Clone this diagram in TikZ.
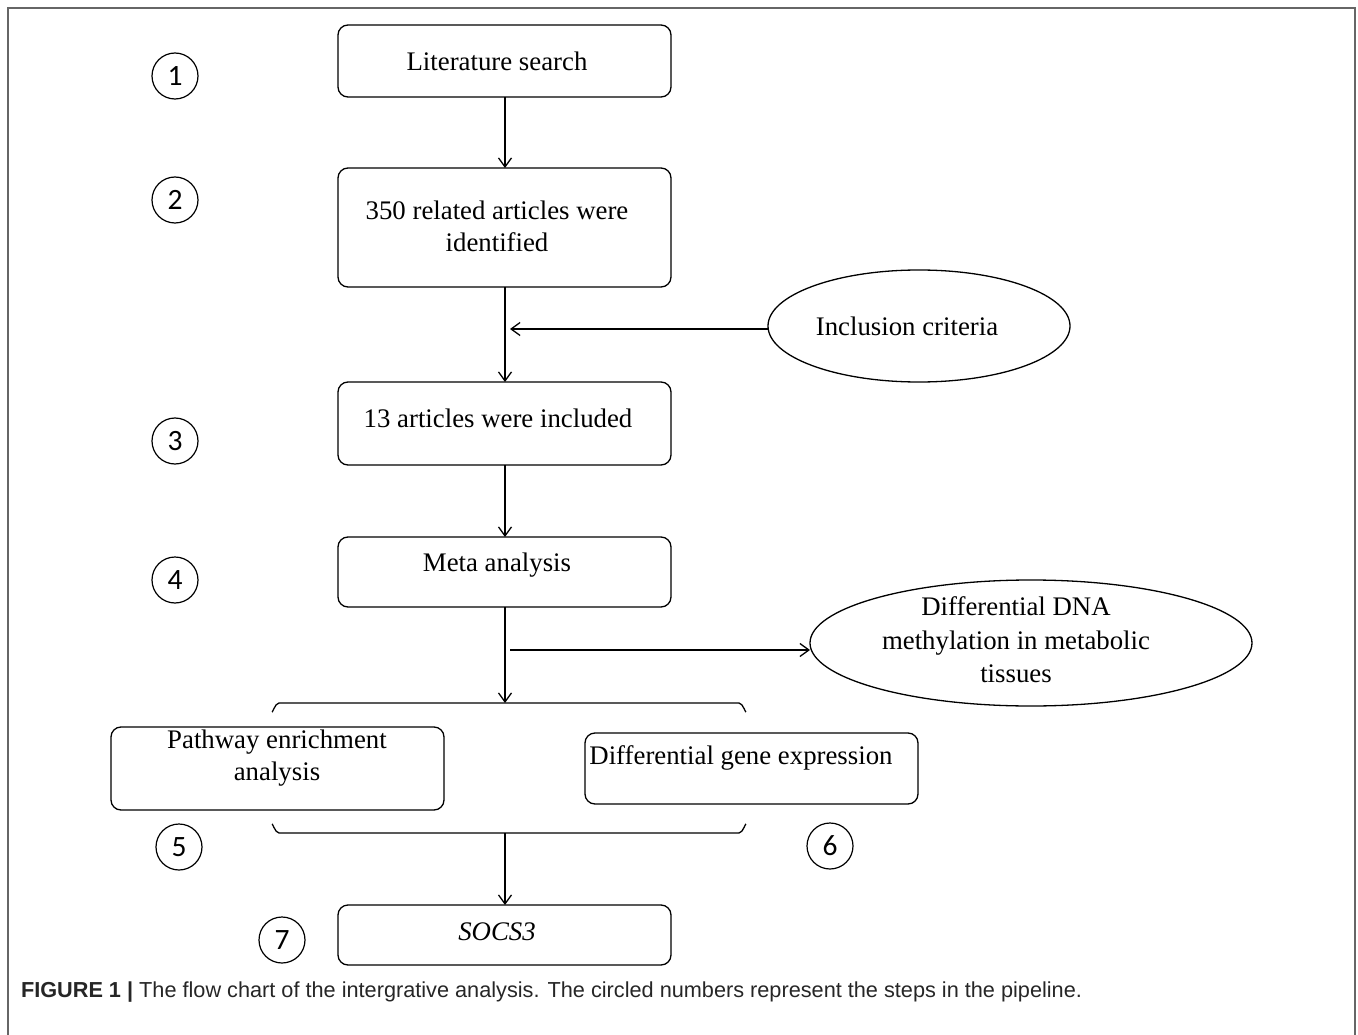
\documentclass[tikz,border=0pt]{standalone}
\usepackage{fontspec}
\setmainfont{Liberation Serif}
\newfontfamily\capfont{Liberation Sans}
\newfontfamily\numfont{Carlito}
\usetikzlibrary{shapes.geometric,arrows.meta}
\begin{document}
\begin{tikzpicture}[x=1pt,y=-1pt,
  line width=1.3pt,
  every node/.style={inner sep=0pt,outer sep=0pt},
  boxshape/.style={draw,rounded corners=10pt,anchor=north west},
  txt/.style={font=\fontsize{26.8}{32}\selectfont,align=center},
  numc/.style={draw,circle,minimum size=46pt,line width=1.2pt,font=\numfont\fontsize{29.5}{29.5}\selectfont},
  ell/.style={draw,ellipse},
  arr/.style={-{Straight Barb[length=9pt,width=13pt,line width=1.3pt]}}
]
\useasboundingbox (0,0) rectangle (1358,1035);
\draw[line width=2pt,black!60] (8,1035) -- (8,8) -- (1355,8) -- (1355,1035);

% boxes
\node[boxshape,minimum width=333pt,minimum height=72pt] (b1) at (338,25) {};
\node[boxshape,minimum width=333pt,minimum height=119pt] (b2) at (338,168) {};
\node[boxshape,minimum width=333pt,minimum height=83pt] (b3) at (338,382) {};
\node[boxshape,minimum width=333pt,minimum height=70pt] (b4) at (338,537) {};
\node[boxshape,minimum width=333pt,minimum height=83pt] (b5) at (111,727) {};
\node[boxshape,minimum width=333pt,minimum height=71pt] (b6) at (585,733) {};
\node[boxshape,minimum width=333pt,minimum height=60pt] (b7) at (338,905) {};

% box texts
\node[txt] (t1) at (497,61) {Literature search};
\node[txt] (t2) at (497,226) {350 related articles were\\identified};
\node[txt] (t3) at (498,418) {13 articles were included};
\node[txt] (t4) at (497,565) {Meta analysis};
\node[txt] (t5) at (277,758) {Pathway enrichment\\analysis};
\node[txt] (t6) at (741,758) {Differential gene expression};
\node[txt] (t7) at (497,932) {\itshape SOCS3};

% ellipses
\node[ell,minimum width=302pt,minimum height=112pt] (e1) at (919,326) {};
\node[txt] (te1) at (907,326) {Inclusion criteria};
\node[ell,minimum width=442pt,minimum height=126pt] (e2) at (1031,643) {};
\node[txt,font=\fontsize{26.8}{33.5}\selectfont] (te2) at (1016,640) {Differential DNA\\methylation in metabolic\\tissues};

% circled numbers
\node[numc] (c1) at (175,76) {1};
\node[numc] (c2) at (175,200) {2};
\node[numc] (c3) at (175,441) {3};
\node[numc] (c4) at (175,580) {4};
\node[numc] (c5) at (179,847) {5};
\node[numc] (c6) at (830,846) {6};
\node[numc] (c7) at (282,940) {7};

% brackets
\coordinate (brt) at (505,703);
\coordinate (brb) at (505,833);
\draw (272,711) to[out=-90,in=180] (279,703) -- (739,703) to[out=0,in=-90] (746,711);
\draw (272,825) to[out=90,in=180] (279,833) -- (739,833) to[out=0,in=90] (746,825);

% connectors
\draw[arr] (b1.south -| brt) -- (b2.north -| brt);
\draw[arr] (b2.south -| brt) -- (b3.north -| brt);
\draw[arr] (b3.south -| brt) -- (b4.north -| brt);
\draw[arr] (b4.south -| brt) -- (brt);
\draw[arr] (brb) -- (b7.north -| brb);
\coordinate (inend) at (510,329);
\draw[arr] (e1.west |- inend) -- (inend);
\coordinate (outst) at (510,650);
\draw[arr] (outst) -- (e2.west |- outst);

% caption
\node[anchor=west,font=\capfont\fontsize{21.7}{22}\selectfont,text=black!85] (cap) at (21,992)
 {\textbf{FIGURE 1 |} The flow chart of the intergrative analysis. The circled numbers represent the steps in the pipeline.};
\end{tikzpicture}
\end{document}
